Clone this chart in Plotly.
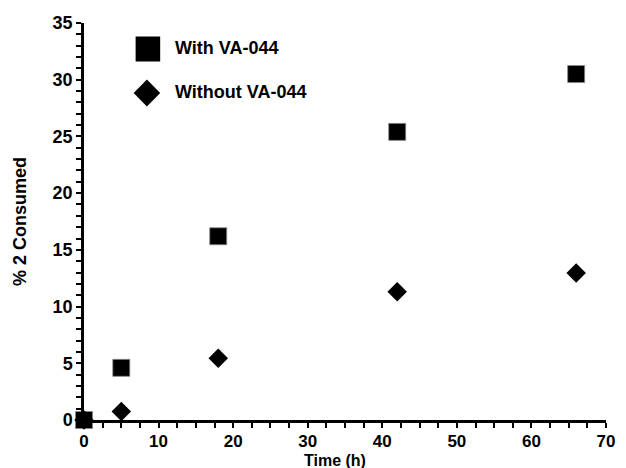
import plotly.graph_objects as go

time_h = [0, 5, 18, 42, 66]
with_va044 = [0, 4.6, 16.2, 25.4, 30.5]
without_va044 = [0, 0.75, 5.45, 11.3, 12.95]
x_ticks = [0, 10, 20, 30, 40, 50, 60, 70]
y_ticks = [0, 5, 10, 15, 20, 25, 30, 35]
series_names = ["With VA-044", "Without VA-044"]

FONT = "Liberation Sans, Arial, sans-serif"
FS = 18

fig = go.Figure()
fig.add_trace(go.Scatter(
    x=time_h, y=with_va044, mode="markers", name=series_names[0],
    marker=dict(symbol="square", size=17, color="black",
                line=dict(color="#888", width=0.8)),
    cliponaxis=False, showlegend=False))
fig.add_trace(go.Scatter(
    x=time_h, y=without_va044, mode="markers", name=series_names[1],
    marker=dict(symbol="diamond", size=15, color="black",
                line=dict(color="black", width=0)),
    cliponaxis=False, showlegend=False))

W, H = 626, 468
L, R, T, B = 84, 11, 23, 48
pw, ph = W - L - R, H - T - B

def px(xp):
    return (xp - L) / pw

def py(yp):
    return 1 - (yp - T) / ph

shapes = []
# legend square
cx, cy, s = 149, 49, 12.5
shapes.append(dict(type="rect", xref="paper", yref="paper",
                   x0=px(cx - s), x1=px(cx + s), y0=py(cy + s), y1=py(cy - s),
                   fillcolor="black", line=dict(width=0)))
# legend diamond
cx, cy, d = 148, 93, 13.5
path = "M {} {} L {} {} L {} {} L {} {} Z".format(
    px(cx), py(cy - d), px(cx + d), py(cy), px(cx), py(cy + d), px(cx - d), py(cy))
shapes.append(dict(type="path", xref="paper", yref="paper", path=path,
                   fillcolor="black", line=dict(width=0)))

annotations = [
    dict(text="<b>" + series_names[0] + "</b>", xref="paper", yref="paper",
         x=px(175), y=py(48), xanchor="left", yanchor="middle", showarrow=False,
         font=dict(family=FONT, size=FS, color="black")),
    dict(text="<b>" + series_names[1] + "</b>", xref="paper", yref="paper",
         x=px(175), y=py(92), xanchor="left", yanchor="middle", showarrow=False,
         font=dict(family=FONT, size=FS, color="black")),
    dict(text="<b>Time (h)</b>", xref="paper", yref="paper",
         x=px(339), y=py(460), xanchor="center", yanchor="middle", showarrow=False,
         font=dict(family=FONT, size=16, color="black")),
    dict(text="<b>% 2 Consumed</b>", xref="paper", yref="paper",
         x=px(19), y=py(222), xanchor="center", yanchor="middle", showarrow=False,
         textangle=-90, font=dict(family=FONT, size=FS, color="black")),
]

axis_common = dict(
    showline=True, linecolor="black", linewidth=2.5,
    ticks="outside", ticklen=5, tickwidth=2, tickcolor="black",
    showgrid=False, zeroline=False,
)

fig.update_xaxes(range=[0, 70], tickvals=x_ticks, ticktext=[str(v) for v in x_ticks],
                 tickfont=dict(family=FONT, size=17, color="black", weight="bold"),
                 ticklabelstandoff=-1,
                 minor=dict(dtick=2.5, tick0=0, ticks="outside", ticklen=5,
                            tickwidth=2, tickcolor="black"),
                 **axis_common)
fig.update_yaxes(range=[0, 35], tickvals=y_ticks, ticktext=[str(v) for v in y_ticks],
                 tickfont=dict(family=FONT, size=FS, color="black", weight="bold"),
                 minor=dict(dtick=1, tick0=0, ticks="outside", ticklen=5,
                            tickwidth=2, tickcolor="black"),
                 **axis_common)

fig.update_layout(
    width=W, height=H,
    margin=dict(l=L, r=R, t=T, b=B, pad=0),
    paper_bgcolor="white", plot_bgcolor="white",
    shapes=shapes, annotations=annotations,
    font=dict(family=FONT, color="black"),
)

fig.write_html(
    "out.html",
    config={"displayModeBar": False},
    post_script="document.body.style.margin='0';document.body.style.overflow='hidden';",
)
